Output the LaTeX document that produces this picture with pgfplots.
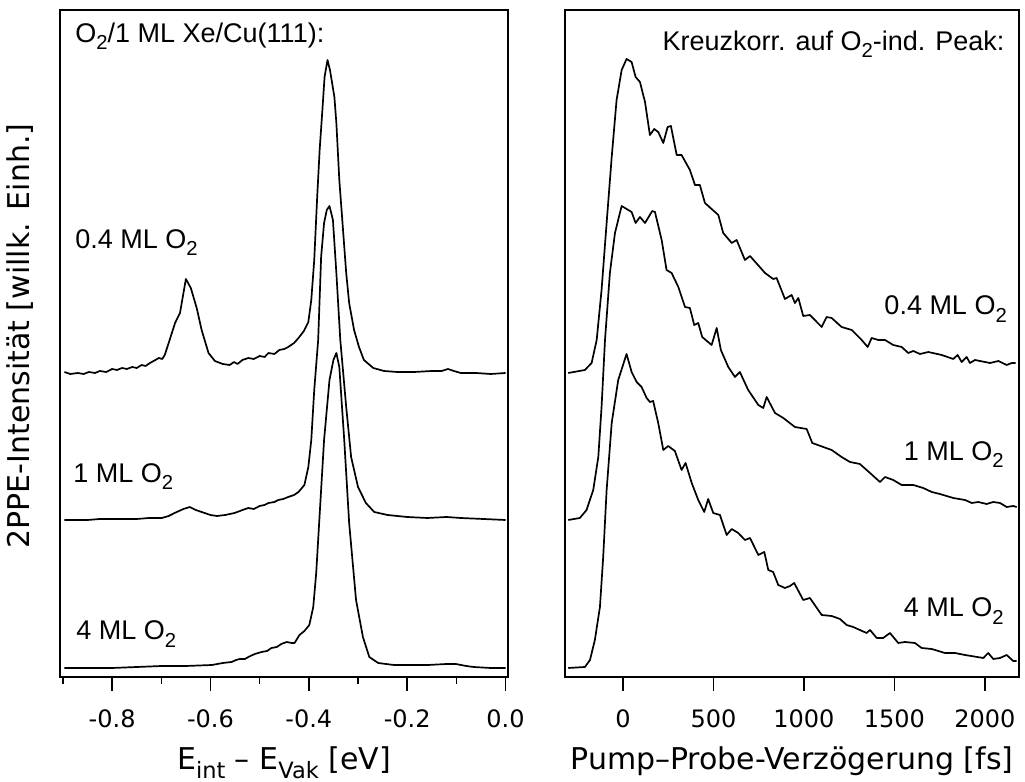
\documentclass[border=0pt]{standalone}
\usepackage{fontspec}
\setmainfont{DejaVu Sans}
\newfontfamily\arial{Liberation Sans}
\usepackage{graphicx}
\usepackage{pgfplots}
\pgfplotsset{compat=1.18}
\newcommand\sub[1]{\raisebox{-0.28em}{\scalebox{0.75}{#1}}}
\newcommand\ann{\arial\fontsize{13.5}{16}\selectfont}

\begin{document}
\begin{tikzpicture}
\useasboundingbox (0,0) rectangle (512.5pt,391pt);
\pgfplotsset{
  tr/.style={black, line width=0.85pt, mark=none, line join=round},
  base/.style={scale only axis, height=333.5pt, ymin=0, ymax=667, ytick=\empty,
   axis line style={line width=0.75pt},
   tick style={black, line width=0.75pt}, tick align=outside, xtick pos=lower,
   major tick length=7pt, minor tick length=3.5pt,
   xticklabel style={font=\fontsize{12}{14}\selectfont, anchor=base, yshift=-18.5pt},
   xlabel style={font=\fontsize{15}{18}\selectfont, at={(axis description cs:0.5,0)}, anchor=base, yshift=-46.5pt},
  },
}
% ---------------- left panel ----------------
\begin{axis}[base, at={(30pt,52.5pt)}, anchor=south west, width=224pt,
  xmin=-0.906, xmax=0.005,
  xtick={-0.8,-0.6,-0.4,-0.2,0.0}, xticklabels={-0.8,-0.6,-0.4,-0.2,0.0},
  minor xtick={-0.9,-0.7,-0.5,-0.3,-0.1},
  xlabel={E\sub{int} – E\sub{Vak} [eV]},
  ylabel={2PPE-Intensität [willk. Einh.]},
  ylabel style={font=\fontsize{15}{18}\selectfont, at={(axis description cs:-0.067,0.511)}, anchor=base},
]
% 0.4 ML
\addplot[tr] coordinates {
(-0.897,305) (-0.885,303) (-0.870,304) (-0.858,303) (-0.847,305) (-0.835,304) (-0.825,306) (-0.812,305) (-0.800,308)
(-0.790,307) (-0.780,309) (-0.770,308) (-0.759,310) (-0.750,309) (-0.740,312) (-0.732,311) (-0.723,314)
(-0.712,317) (-0.705,319) (-0.698,318) (-0.693,322) (-0.685,334) (-0.672,354) (-0.662,364) (-0.650,398)
(-0.640,389) (-0.628,369) (-0.618,347) (-0.604,324) (-0.591,316) (-0.575,313) (-0.561,312)
(-0.552,315) (-0.545,313) (-0.535,317) (-0.523,319) (-0.512,318) (-0.500,321) (-0.490,320) (-0.482,324) (-0.470,323)
(-0.460,327) (-0.450,328) (-0.442,330) (-0.430,334) (-0.421,339)
(-0.410,346) (-0.401,355) (-0.395,377) (-0.389,417) (-0.383,480) (-0.378,527) (-0.372,570)
(-0.368,600) (-0.362,617) (-0.357,607) (-0.348,580) (-0.344,554) (-0.338,497) (-0.330,444)
(-0.324,404) (-0.318,374) (-0.308,347) (-0.298,330) (-0.288,317) (-0.269,309) (-0.247,306)
(-0.220,305) (-0.186,305) (-0.150,306) (-0.130,306) (-0.117,308) (-0.105,306) (-0.091,304) (-0.060,304) (-0.030,303) (0.000,304)
};
% 1 ML
\addplot[tr] coordinates {
(-0.897,157) (-0.875,157) (-0.850,157) (-0.825,158) (-0.800,158) (-0.775,158) (-0.750,158) (-0.725,159) (-0.699,159) (-0.685,161) (-0.673,164) (-0.655,168)
(-0.642,170) (-0.630,167) (-0.618,165) (-0.600,162) (-0.587,161) (-0.570,162) (-0.551,164)
(-0.540,166) (-0.535,167) (-0.523,169) (-0.512,168) (-0.500,171) (-0.490,172) (-0.482,174) (-0.470,175) (-0.462,177) (-0.452,178) (-0.442,180) (-0.430,182) (-0.421,185)
(-0.409,192) (-0.401,210) (-0.395,237) (-0.389,287) (-0.381,337) (-0.375,420) (-0.369,454)
(-0.3635,467) (-0.358,471) (-0.351,457) (-0.344,404) (-0.336,337) (-0.324,270) (-0.314,220)
(-0.300,190) (-0.284,174) (-0.267,165) (-0.240,162) (-0.200,160) (-0.159,159) (-0.120,160) (-0.091,159) (-0.045,158) (0.000,157)
};
% 4 ML
\addplot[tr] coordinates {
(-0.897,9) (-0.850,9) (-0.800,9) (-0.750,10) (-0.699,11) (-0.650,11) (-0.597,12) (-0.575,14) (-0.557,15)
(-0.548,17) (-0.540,18) (-0.530,18) (-0.523,20) (-0.510,23) (-0.496,25) (-0.485,26) (-0.476,29) (-0.465,30) (-0.456,33) (-0.445,35) (-0.435,34) (-0.429,34)
(-0.419,42) (-0.409,46) (-0.399,52) (-0.391,70) (-0.385,104) (-0.379,154) (-0.369,237)
(-0.358,297) (-0.350,317) (-0.344,324) (-0.338,310) (-0.328,237) (-0.318,154) (-0.304,77)
(-0.290,40) (-0.277,20) (-0.259,14) (-0.227,12) (-0.190,12) (-0.158,12) (-0.120,13) (-0.101,13)
(-0.080,11) (-0.065,10) (-0.030,9) (0.000,9)
};
\node[font=\ann, anchor=base west, inner sep=0pt] at (axis description cs:0.0335,0.952) {O\sub{2}/1 ML Xe/Cu(111):};
\node[font=\ann, anchor=base west, inner sep=0pt] at (axis description cs:0.0335,0.643) {0.4 ML O\sub{2}};
\node[font=\ann, anchor=base west, inner sep=0pt] at (axis description cs:0.029,0.292) {1 ML O\sub{2}};
\node[font=\ann, anchor=base west, inner sep=0pt] at (axis description cs:0.0357,0.0555) {4 ML O\sub{2}};
\end{axis}
% ---------------- right panel ----------------
\begin{axis}[base, at={(282.5pt,52.5pt)}, anchor=south west, width=227pt,
  xmin=-320, xmax=2188,
  xtick={0,500,1000,1500,2000}, xticklabels={0,500,1000,1500,2000},
  xlabel={Pump–Probe-Verzögerung [fs]},
]
% 0.4 ML
\addplot[tr] coordinates {
(-302,304) (-210,307) (-173,314) (-145,337) (-118,387) (-90,454) (-62,520) (-35,577) (-7,607)
(20,618) (48,615) (70,600) (94,595) (122,575) (149,542) (173,548) (195,545) (223,534) (247,550)
(265,551) (297,522) (324,522) (370,507) (398,492) (425,492) (453,474) (527,462) (554,444)
(601,434) (628,437) (674,417) (702,421) (785,404) (830,398) (849,399) (895,378) (932,382)
(950,374) (969,379) (996,361) (1033,362) (1098,350) (1125,360) (1153,359) (1208,350) (1264,347)
(1319,337) (1352,330) (1374,339) (1411,337) (1448,337) (1493,332) (1540,330) (1576,324)
(1604,326) (1641,323) (1687,325) (1761,322) (1825,318) (1849,322) (1871,315) (1899,320)
(1917,314) (1945,317) (2000,315) (2028,314) (2074,316) (2120,312) (2148,314) (2170,314)
};
% 1 ML
\addplot[tr] coordinates {
(-302,157) (-238,159) (-201,167) (-164,187) (-136,220) (-118,270) (-99,337) (-72,404) (-44,444)
(-7,471) (48,465) (70,454) (94,460) (122,454) (162,466) (177,465) (214,437) (241,407) (269,404)
(306,390) (343,370) (370,369) (394,352) (416,354) (438,340) (490,332) (518,349) (541,327)
(582,310) (619,300) (646,305) (692,287) (748,272) (775,269) (794,280) (840,264) (886,259)
(950,250) (1015,248) (1046,234) (1107,230) (1153,227) (1208,220) (1254,215) (1309,213)
(1365,204) (1420,195) (1448,200) (1493,197) (1540,192) (1604,192) (1659,189) (1706,185)
(1751,183) (1825,179) (1890,177) (1927,174) (1963,175) (2009,173) (2046,175) (2083,174)
(2120,170) (2156,171) (2175,170)
};
% 4 ML
\addplot[tr] coordinates {
(-302,9) (-210,10) (-182,17) (-155,37) (-127,70) (-109,120) (-90,187) (-62,254) (-26,297)
(20,323) (48,305) (76,295) (103,290) (131,279) (149,275) (167,276) (195,254) (223,227)
(250,231) (287,226) (324,207) (346,214) (380,194) (416,177) (449,165) (471,178) (499,164)
(536,162) (573,142) (601,148) (637,144) (674,137) (702,139) (748,122) (781,125) (803,107)
(830,105) (858,92) (895,89) (923,91) (946,94) (996,77) (1033,79) (1098,62) (1153,61)
(1199,58) (1236,52) (1272,50) (1309,47) (1346,44) (1365,47) (1402,39) (1438,39) (1475,44)
(1521,34) (1558,35) (1613,34) (1650,29) (1706,28) (1779,24) (1834,24) (1890,22) (1991,19)
(2018,24) (2046,18) (2083,19) (2120,22) (2156,16) (2175,16)
};
\node[font=\ann, anchor=base east, inner sep=0pt] at (axis description cs:0.969,0.940) {Kreuzkorr. auf O\sub{2}-ind. Peak:};
\node[font=\ann, anchor=base east, inner sep=0pt] at (axis description cs:0.974,0.543) {0.4 ML O\sub{2}};
\node[font=\ann, anchor=base east, inner sep=0pt] at (axis description cs:0.967,0.325) {1 ML O\sub{2}};
\node[font=\ann, anchor=base east, inner sep=0pt] at (axis description cs:0.967,0.090) {4 ML O\sub{2}};
\end{axis}
\end{tikzpicture}
\end{document}
